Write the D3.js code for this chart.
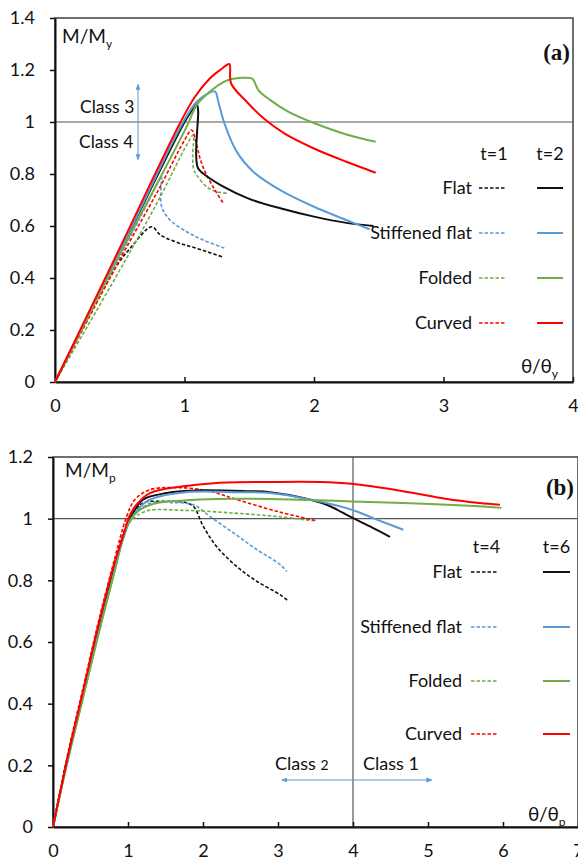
<!DOCTYPE html>
<html>
<head>
<meta charset="utf-8">
<script src="https://cdn.jsdelivr.net/npm/d3@7"></script>
<style>
  body { margin: 0; background: #fff; }
  text { font-family: Lato, "Open Sans", "DejaVu Sans", sans-serif; fill: #111; }
</style>
</head>
<body>
<div id="chart"></div>
<script>
// ---- data: [theta ratio, moment ratio] ----
// panel (a)
const aFlatT1 = [[0,0],[0.3,0.29],[0.48,0.45],[0.58,0.514],[0.747,0.597],[0.8,0.572],[0.836,0.559],[0.965,0.533],[1.094,0.514],[1.3,0.48]];
const aStiffT1 = [[0,0],[0.5,0.48],[0.8,0.77],[0.823,0.79],[0.818,0.75],[0.824,0.674],[0.888,0.623],[1.017,0.578],[1.145,0.546],[1.313,0.514]];
const aFoldedT1 = [[0,0],[0.5,0.43],[0.8,0.7],[1.017,0.912],[1.068,0.95],[1.063,0.873],[1.07,0.82],[1.094,0.796],[1.171,0.751],[1.249,0.732],[1.326,0.726]];
const aCurvedT1 = [[0,0],[0.5,0.47],[0.8,0.74],[1.0,0.93],[1.055,0.969],[1.094,0.912],[1.12,0.86],[1.158,0.809],[1.22,0.751],[1.3,0.687]];
const aFlatT2 = [[0,0],[0.5,0.5],[0.99,0.99],[1.05,1.04],[1.094,1.068],[1.105,1.045],[1.097,0.96],[1.09,0.875],[1.105,0.822],[1.17,0.792],[1.3,0.751],[1.49,0.706],[1.74,0.668],[2.0,0.636],[2.25,0.612],[2.46,0.6]];
const aStiffT2 = [[0,0],[0.5,0.5],[0.99,1.0],[1.094,1.078],[1.184,1.11],[1.236,1.117],[1.261,1.078],[1.313,0.988],[1.403,0.886],[1.531,0.809],[1.75,0.735],[2.0,0.674],[2.25,0.623],[2.43,0.587]];
const aFoldedT2 = [[0,0],[0.5,0.49],[1.017,0.982],[1.094,1.065],[1.197,1.117],[1.3,1.153],[1.364,1.165],[1.519,1.168],[1.537,1.158],[1.57,1.123],[1.66,1.085],[1.8,1.04],[2.0,0.996],[2.25,0.952],[2.476,0.924]];
const aCurvedT2 = [[0,0],[0.5,0.515],[0.965,0.995],[1.081,1.097],[1.197,1.168],[1.287,1.204],[1.346,1.223],[1.359,1.149],[1.48,1.078],[1.61,1.014],[1.78,0.953],[1.995,0.899],[2.25,0.847],[2.476,0.805]];

// panel (b)
const bFlatT4 = [[0,0],[0.2,0.235],[0.4,0.44],[0.6,0.645],[0.8,0.835],[0.95,0.96],[1.02,1.0],[1.204,1.051],[1.471,1.056],[1.738,1.054],[1.871,1.04],[2.004,0.975],[2.18,0.91],[2.449,0.845],[2.716,0.797],[3.03,0.753],[3.14,0.732]];
const bStiffT4 = [[0,0],[0.2,0.23],[0.4,0.435],[0.6,0.64],[0.8,0.83],[0.95,0.955],[1.02,0.995],[1.293,1.05],[1.6,1.052],[1.871,1.045],[2.093,1.007],[2.404,0.954],[2.716,0.9],[3.03,0.851],[3.116,0.829]];
const bFoldedT4 = [[0,0],[0.2,0.235],[0.4,0.44],[0.6,0.645],[0.8,0.83],[0.95,0.95],[1.03,0.99],[1.249,1.025],[1.738,1.027],[2.18,1.022],[3.03,1.006],[3.47,0.993]];
const bCurvedT4 = [[0,0],[0.2,0.24],[0.4,0.45],[0.6,0.66],[0.8,0.85],[0.982,1.007],[1.093,1.062],[1.293,1.094],[1.738,1.1],[2.093,1.089],[2.449,1.062],[3.03,1.021],[3.516,0.993]];
const bFlatT6 = [[0,0],[0.2,0.23],[0.4,0.43],[0.6,0.63],[0.8,0.82],[0.92,0.93],[1.027,1.0],[1.204,1.062],[1.516,1.083],[1.96,1.092],[2.627,1.089],[2.893,1.086],[3.338,1.067],[3.649,1.045],[3.982,1.004],[4.227,0.975],[4.493,0.941]];
const bStiffT6 = [[0,0],[0.2,0.22],[0.4,0.42],[0.6,0.62],[0.8,0.81],[0.93,0.93],[1.03,0.995],[1.249,1.056],[1.738,1.085],[2.4,1.086],[2.893,1.083],[3.427,1.062],[3.982,1.029],[4.316,0.997],[4.671,0.964]];
const bFoldedT6 = [[0,0],[0.2,0.22],[0.4,0.42],[0.6,0.62],[0.8,0.81],[0.93,0.935],[1.03,0.995],[1.16,1.029],[1.382,1.051],[1.738,1.059],[2.18,1.064],[2.893,1.064],[3.98,1.056],[4.67,1.051],[5.69,1.04],[5.98,1.035]];
const bCurvedT6 = [[0,0],[0.2,0.23],[0.4,0.44],[0.6,0.65],[0.8,0.84],[0.96,0.964],[1.004,1.0],[1.116,1.046],[1.293,1.083],[1.738,1.105],[2.18,1.116],[2.893,1.119],[3.56,1.119],[3.982,1.113],[4.67,1.089],[5.25,1.064],[5.69,1.051],[5.96,1.045]];

const categories = ["Flat", "Stiffened flat", "Folded", "Curved"];
const colors = ["#111111", "#5b9bd5", "#70ad47", "#ff0000"];

const aXTicks = [0, 1, 2, 3, 4];
const aYTicks = [0, 0.2, 0.4, 0.6, 0.8, 1, 1.2, 1.4];
const bXTicks = [0, 1, 2, 3, 4, 5, 6, 7];
const bYTicks = [0, 0.2, 0.4, 0.6, 0.8, 1, 1.2];

const W = 578, H = 863;

const svg = d3.select("#chart").append("svg")
  .attr("width", W)
  .attr("height", H);

// arrow head for the class markers
const defs = svg.append("defs");
defs.append("marker")
  .attr("id", "arr")
  .attr("viewBox", "0 0 10 10")
  .attr("refX", 9).attr("refY", 5)
  .attr("markerWidth", 6).attr("markerHeight", 6)
  .attr("orient", "auto-start-reverse")
  .append("path")
  .attr("d", "M0,1 L10,5 L0,9 z")
  .attr("fill", "#5b9bd5");

function drawPanel(cfg) {
  const x = d3.scaleLinear().domain(cfg.xDomain).range(cfg.xRange);
  const y = d3.scaleLinear().domain(cfg.yDomain).range(cfg.yRange);
  const g = svg.append("g");

  // plot frame
  g.append("rect")
    .attr("x", cfg.xRange[0]).attr("y", cfg.yRange[1])
    .attr("width", cfg.xRange[1] - cfg.xRange[0])
    .attr("height", cfg.yRange[0] - cfg.yRange[1])
    .attr("fill", "none")
    .attr("stroke", "#404040")
    .attr("stroke-width", 1.5);

  // reference line at 1
  g.append("line")
    .attr("x1", cfg.xRange[0]).attr("x2", cfg.xRange[1])
    .attr("y1", y(1)).attr("y2", y(1))
    .attr("stroke", "#555").attr("stroke-width", 1.2);

  if (cfg.vLine != null) {
    g.append("line")
      .attr("x1", x(cfg.vLine)).attr("x2", x(cfg.vLine))
      .attr("y1", cfg.yRange[0]).attr("y2", cfg.yRange[1])
      .attr("stroke", "#555").attr("stroke-width", 1.2);
  }

  // axes
  const yAxis = g.append("g")
    .attr("transform", `translate(${cfg.xRange[0]},0)`)
    .call(d3.axisLeft(y).tickValues(cfg.yTicks).tickSize(5).tickSizeOuter(0)
      .tickPadding(15).tickFormat(d => String(d)));
  const xAxis = g.append("g")
    .attr("transform", `translate(0,${cfg.yRange[0]})`)
    .call(d3.axisBottom(x).tickValues(cfg.xTicks).tickSize(-5).tickSizeOuter(0)
      .tickPadding(17).tickFormat(d => String(d)));
  [xAxis, yAxis].forEach(a => {
    a.select(".domain").attr("stroke", "#111").attr("stroke-width", 2);
    a.selectAll(".tick line").attr("stroke", "#111").attr("stroke-width", 1.5);
    a.selectAll(".tick text").attr("font-size", 18).attr("fill", "#111")
      .style("font-family", "Lato, 'Open Sans', sans-serif");
  });
  xAxis.selectAll(".tick").filter(d => d === 0).select("line").remove();

  // curves
  const line = d3.line()
    .x(d => x(d[0]))
    .y(d => y(d[1]))
    .curve(d3.curveCatmullRom.alpha(0.5));

  cfg.dashed.forEach((s, i) => {
    g.append("path").datum(s)
      .attr("d", line)
      .attr("fill", "none")
      .attr("stroke", colors[i])
      .attr("stroke-width", 1.6)
      .attr("stroke-dasharray", "3.5,2");
  });
  cfg.solid.forEach((s, i) => {
    g.append("path").datum(s)
      .attr("d", line)
      .attr("fill", "none")
      .attr("stroke", colors[i])
      .attr("stroke-width", 2);
  });

  // legend
  const lg = cfg.legend;
  g.append("text").attr("x", lg.dashX[0] + (lg.dashX[1] - lg.dashX[0]) / 2 + 2)
    .attr("y", lg.headY).attr("text-anchor", "middle").attr("font-size", 18)
    .text(lg.heads[0]);
  g.append("text").attr("x", lg.solidX[0] + (lg.solidX[1] - lg.solidX[0]) / 2)
    .attr("y", lg.headY).attr("text-anchor", "middle").attr("font-size", 18)
    .text(lg.heads[1]);
  categories.forEach((c, i) => {
    const ry = lg.rowY[i];
    g.append("text").attr("x", lg.textX).attr("y", ry + 6)
      .attr("text-anchor", "end").attr("font-size", 18).text(c);
    g.append("line").attr("x1", lg.dashX[0]).attr("x2", lg.dashX[1])
      .attr("y1", ry).attr("y2", ry)
      .attr("stroke", colors[i]).attr("stroke-width", 1.6)
      .attr("stroke-dasharray", "3.5,2");
    g.append("line").attr("x1", lg.solidX[0]).attr("x2", lg.solidX[1])
      .attr("y1", ry).attr("y2", ry)
      .attr("stroke", colors[i]).attr("stroke-width", 2);
  });

  // axis titles
  const yt = g.append("text").attr("x", cfg.yTitle[0]).attr("y", cfg.yTitle[1])
    .attr("font-size", 19);
  yt.append("tspan").text("M/M");
  yt.append("tspan").attr("font-size", 12).attr("dy", 5).text(cfg.sub);

  const xt = g.append("text").attr("x", cfg.xTitle[0]).attr("y", cfg.xTitle[1])
    .attr("font-size", 19);
  xt.append("tspan").text("θ/θ");
  xt.append("tspan").attr("font-size", 12).attr("dy", 5).text(cfg.sub);

  // panel tag
  g.append("text").attr("x", cfg.tag[0]).attr("y", cfg.tag[1])
    .attr("text-anchor", "end")
    .attr("font-size", 23).attr("font-weight", "bold")
    .style("font-family", "'Liberation Serif', 'Times New Roman', serif")
    .text(cfg.tag[2]);

  return { g, x, y };
}

// ---- panel (a) ----
const pa = drawPanel({
  xDomain: [0, 4], xRange: [55, 573],
  yDomain: [0, 1.4], yRange: [382, 18],
  xTicks: aXTicks, yTicks: aYTicks,
  dashed: [aFlatT1, aStiffT1, aFoldedT1, aCurvedT1],
  solid: [aFlatT2, aStiffT2, aFoldedT2, aCurvedT2],
  legend: { heads: ["t=1", "t=2"], headY: 160, textX: 472,
            dashX: [479, 505], solidX: [537, 563], rowY: [188, 233, 278, 323] },
  yTitle: [62, 43], xTitle: [521, 373], sub: "y",
  tag: [570, 60, "(a)"]
});

pa.g.append("text").attr("x", 80).attr("y", 113).attr("font-size", 17.5).text("Class 3");
pa.g.append("text").attr("x", 79).attr("y", 148).attr("font-size", 17.5).text("Class 4");
pa.g.append("line")
  .attr("x1", 138).attr("x2", 138)
  .attr("y1", pa.y(1.145)).attr("y2", pa.y(0.855))
  .attr("stroke", "#5b9bd5").attr("stroke-width", 1)
  .attr("marker-start", "url(#arr)").attr("marker-end", "url(#arr)");

// ---- panel (b) ----
const pb = drawPanel({
  xDomain: [0, 7], xRange: [53, 578],
  yDomain: [0, 1.2], yRange: [827, 457],
  xTicks: bXTicks, yTicks: bYTicks,
  dashed: [bFlatT4, bStiffT4, bFoldedT4, bCurvedT4],
  solid: [bFlatT6, bStiffT6, bFoldedT6, bCurvedT6],
  legend: { heads: ["t=4", "t=6"], headY: 553, textX: 462,
            dashX: [471, 498], solidX: [543, 570], rowY: [572, 627, 681, 734] },
  yTitle: [65, 477], xTitle: [528, 821], sub: "p",
  tag: [574, 495, "(b)"],
  vLine: 4
});

const c2 = pb.g.append("text").attr("x", 275).attr("y", 770).attr("font-size", 18);
c2.append("tspan").text("Class ");
c2.append("tspan").attr("font-size", 14).text("2");
pb.g.append("text").attr("x", 363).attr("y", 770).attr("font-size", 18).text("Class 1");
pb.g.append("line")
  .attr("x1", pb.x(3.05)).attr("x2", pb.x(5.05))
  .attr("y1", 780).attr("y2", 780)
  .attr("stroke", "#5b9bd5").attr("stroke-width", 1)
  .attr("marker-start", "url(#arr)").attr("marker-end", "url(#arr)");
</script>
</body>
</html>
